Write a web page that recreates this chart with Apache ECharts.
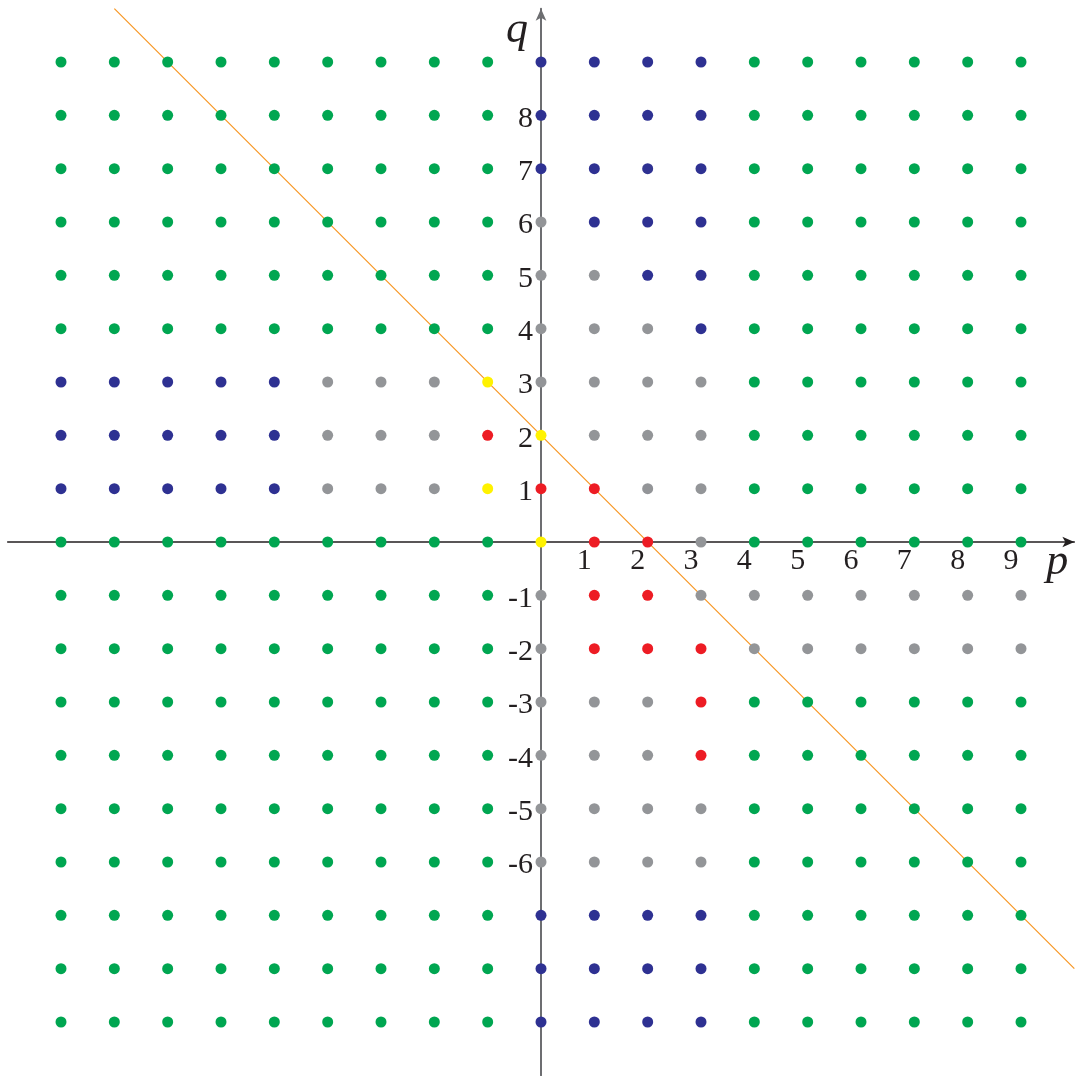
<!DOCTYPE html>
<html>
<head>
<meta charset="utf-8">
<script src="https://cdn.jsdelivr.net/npm/echarts@6/dist/echarts.min.js"></script>
<style>
  html, body { margin: 0; padding: 0; background: #fff; }
  #main { width: 1077px; height: 1076px; }
</style>
</head>
<body>
<div id="main"></div>
<script>
// 点阵：每行对应一个 q 值（从 9 到 -9），每个字符对应 p = -9..9
// G 绿, B 蓝, S 灰, R 红, Y 黄
const pValues = [-9, -8, -7, -6, -5, -4, -3, -2, -1, 0, 1, 2, 3, 4, 5, 6, 7, 8, 9];
const qValues = [9, 8, 7, 6, 5, 4, 3, 2, 1, 0, -1, -2, -3, -4, -5, -6, -7, -8, -9];
const rows = [
    'GGGGGGGGGBBBBGGGGGG',
    'GGGGGGGGGBBBBGGGGGG',
    'GGGGGGGGGBBBBGGGGGG',
    'GGGGGGGGGSBBBGGGGGG',
    'GGGGGGGGGSSBBGGGGGG',
    'GGGGGGGGGSSSBGGGGGG',
    'BBBBBSSSYSSSSGGGGGG',
    'BBBBBSSSRYSSSGGGGGG',
    'BBBBBSSSYRRSSGGGGGG',
    'GGGGGGGGGYRRSGGGGGG',
    'GGGGGGGGGSRRSSSSSSS',
    'GGGGGGGGGSRRRSSSSSS',
    'GGGGGGGGGSSSRGGGGGG',
    'GGGGGGGGGSSSRGGGGGG',
    'GGGGGGGGGSSSSGGGGGG',
    'GGGGGGGGGSSSSGGGGGG',
    'GGGGGGGGGBBBBGGGGGG',
    'GGGGGGGGGBBBBGGGGGG',
    'GGGGGGGGGBBBBGGGGGG'
];

// 直线 q = 2 - p 的两个端点
const lineData = [[-8, 10], [10, -8]];

// 坐标轴刻度标签
const xLabels = [1, 2, 3, 4, 5, 6, 7, 8, 9];
const yLabels = [8, 7, 6, 5, 4, 3, 2, 1, -1, -2, -3, -4, -5, -6];

const colorMap = {
    G: '#00a651',
    B: '#2e3192',
    S: '#939598',
    R: '#ed1c24',
    Y: '#fff200'
};

// 按颜色分组生成散点
const groups = {};
rows.forEach((row, i) => {
    row.split('').forEach((c, j) => {
        (groups[c] = groups[c] || []).push([pValues[j], qValues[i]]);
    });
});

const chart = echarts.init(document.getElementById('main'));
const font = 'Liberation Serif';
const half = 533.333;   // 轴线移到原点：偏移半个网格

const series = [{
    type: 'line',
    data: lineData,
    showSymbol: false,
    silent: true,
    z: 1,
    lineStyle: { color: '#f7941d', width: 1.2 }
}];
Object.keys(colorMap).forEach(c => {
    series.push({
        type: 'scatter',
        data: groups[c] || [],
        symbolSize: 11,
        silent: true,
        z: 3,
        itemStyle: { color: colorMap[c], opacity: 1 }
    });
});

chart.setOption({
    backgroundColor: '#ffffff',
    animation: false,
    grid: {
        left: 7.667, top: 8.667, width: 1066.67, height: 1066.67,
        containLabel: false, outerBoundsMode: 'none'
    },
    xAxis: {
        type: 'value',
        position: 'bottom',
        offset: -half,
        min: -10, max: 10, interval: 1,
        splitLine: { show: false },
        axisTick: { show: false },
        axisLine: {
            onZero: false,
            symbol: ['none', 'arrow'],
            symbolSize: [8, 12],
            lineStyle: { color: '#231f20', width: 1.5 }
        },
        axisLabel: {
            margin: 4,
            fontFamily: font,
            fontSize: 30,
            color: '#231f20',
            formatter: v => xLabels.includes(v) ? '{a|' + v + '}' : '',
            rich: { a: { fontFamily: font, fontSize: 30, color: '#231f20', padding: [0, 20, 0, 0] } }
        },
        name: '{a|p}',
        nameLocation: 'end',
        nameGap: -28,
        nameTextStyle: {
            rich: {
                a: {
                    fontFamily: font, fontStyle: 'italic', fontSize: 44, color: '#231f20',
                    padding: [40, 0, 0, 0]
                }
            }
        }
    },
    yAxis: {
        type: 'value',
        position: 'left',
        offset: -half,
        min: -10, max: 10, interval: 1,
        splitLine: { show: false },
        axisTick: { show: false },
        axisLine: {
            onZero: false,
            symbol: ['none', 'arrow'],
            symbolSize: [8, 12],
            lineStyle: { color: '#6d6e71', width: 2 }
        },
        axisLabel: {
            margin: 8,
            fontFamily: font,
            fontSize: 30,
            color: '#231f20',
            formatter: v => yLabels.includes(v) ? '{a|' + v + '}' : '',
            rich: { a: { fontFamily: font, fontSize: 30, color: '#231f20', padding: [7, 0, 0, 0] } }
        },
        name: 'q',
        nameLocation: 'end',
        nameGap: -44,
        nameTextStyle: {
            fontFamily: font, fontStyle: 'italic', fontSize: 44, color: '#231f20',
            padding: [0, 48, 0, 0]
        }
    },
    series: series
});
</script>
</body>
</html>
